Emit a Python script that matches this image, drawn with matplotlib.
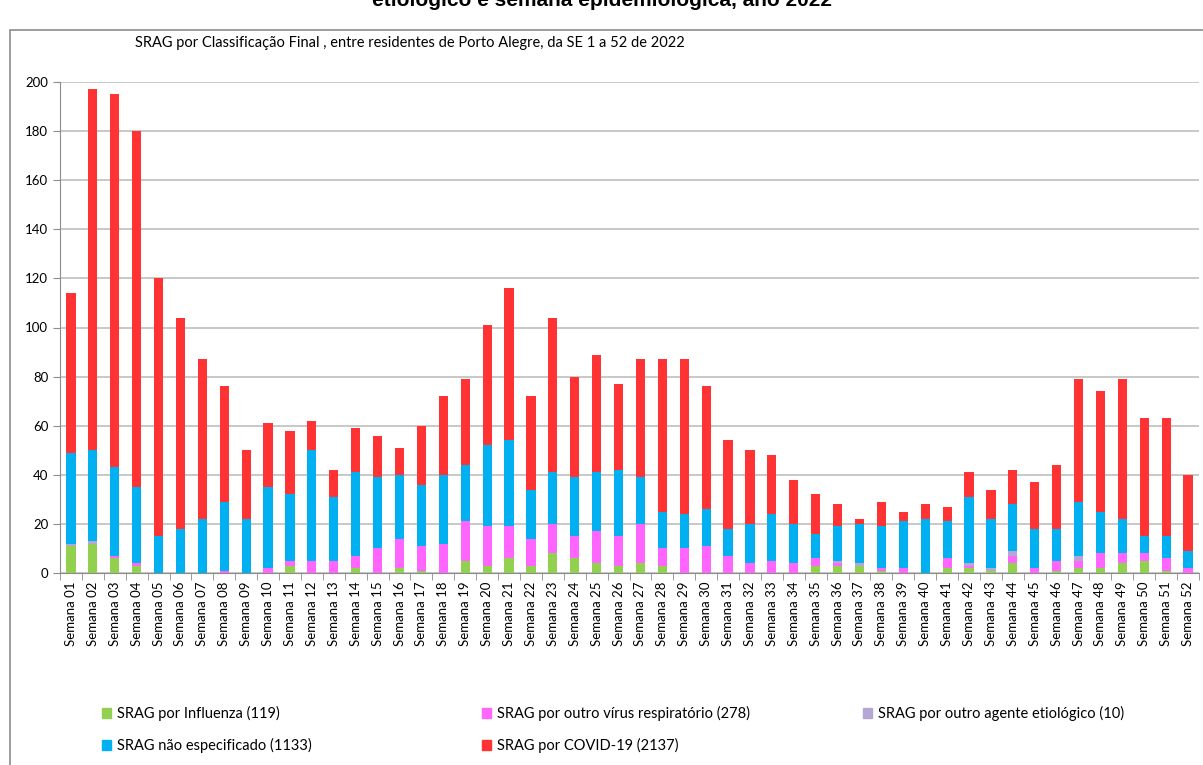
import numpy as np
import matplotlib.pyplot as plt
from matplotlib.patches import Rectangle

weeks = ["Semana %02d" % i for i in range(1, 53)]

influenza = [11, 12, 6, 3, 0, 0, 0, 0, 0, 0, 3, 0,
             0, 2, 0, 2, 1, 0, 5, 3, 6, 3, 8, 6, 4,
             3, 4, 3, 0, 0, 0, 0, 0, 0, 3, 3, 3, 1,
             0, 0, 2, 2, 1, 4, 0, 1, 2, 2, 4, 5, 1, 0]
outro_virus = [0, 0, 1, 1, 0, 0, 0, 1, 0, 2, 2, 5,
               5, 5, 10, 12, 10, 12, 16, 16, 13, 11, 12, 9, 13,
               12, 16, 7, 10, 11, 7, 4, 5, 4, 3, 1, 0, 1,
               2, 0, 4, 1, 0, 3, 2, 4, 3, 6, 4, 3, 5, 2]
outro_agente = [1, 1, 0, 0, 0, 0, 0, 0, 0, 0, 0, 0,
                0, 0, 0, 0, 0, 0, 0, 0, 0, 0, 0, 0, 0,
                0, 0, 0, 0, 0, 0, 0, 0, 0, 0, 1, 1, 0,
                0, 0, 0, 1, 1, 2, 0, 0, 2, 0, 0, 0, 0, 0]
nao_especificado = [37, 37, 36, 31, 15, 18, 22, 28, 22, 33, 27, 45,
                    26, 34, 29, 26, 25, 28, 23, 33, 35, 20, 21, 24, 24,
                    27, 19, 15, 14, 15, 11, 16, 19, 16, 10, 14, 16, 17,
                    19, 22, 15, 27, 20, 19, 16, 13, 22, 17, 14, 7, 9, 7]
covid = [65, 147, 152, 145, 105, 86, 65, 47, 28, 26, 26, 12,
         11, 18, 17, 11, 24, 32, 35, 49, 62, 38, 63, 41, 48,
         35, 48, 62, 63, 50, 36, 30, 24, 18, 16, 9, 2, 10,
         4, 6, 6, 10, 12, 14, 19, 26, 50, 49, 57, 48, 48, 31]

series = [
    ("SRAG por Influenza (119)", influenza, "#92d050"),
    ("SRAG por outro vírus respiratório (278)", outro_virus, "#ff66ff"),
    ("SRAG por outro agente etiológico (10)", outro_agente, "#b4a7d6"),
    ("SRAG não especificado (1133)", nao_especificado, "#00b0f0"),
    ("SRAG por COVID-19 (2137)", covid, "#ff3333"),
]

fig = plt.figure(figsize=(12.03, 7.65), dpi=100)
plt.rcParams['font.family'] = ['Lato', 'DejaVu Sans']

# outer frame
fig.patches.append(Rectangle((10 / 1203, -0.01), 1.2, 1 - 30 / 765 + 0.01,
                             transform=fig.transFigure, fill=False,
                             edgecolor='#8c8c8c', linewidth=1.2))

# title is cut at the top edge, as in the source image
fig.text(0.5, 1.0, "etiológico e semana epidemiológica, ano 2022",
         ha='center', va='center', fontsize=15, fontweight='bold',
         family='Liberation Sans')
fig.text(135 / 1203, 1 - 43 / 765, "SRAG por Classificação Final , entre residentes de Porto Alegre, da SE 1 a 52 de 2022",
         ha='left', va='center', fontsize=10.5)

ax = fig.add_axes([60 / 1203, 1 - 573 / 765, 1139 / 1203, (573 - 82) / 765])
x = np.arange(len(weeks))
bottom = np.zeros(len(weeks))
for label, vals, color in series:
    vals = np.array(vals)
    ax.bar(x, vals, 0.42, bottom=bottom, color=color, label=label, zorder=3)
    bottom += vals

ax.set_xlim(-0.5, len(weeks) - 0.5)
ax.set_ylim(0, 200)
ax.set_yticks(range(0, 201, 20))
ax.yaxis.grid(True, color='#bfbfbf', linewidth=1.2, zorder=0)
ax.set_xticks(x)
ax.set_xticklabels(weeks, rotation=90, fontsize=9.5)
ax.set_xticks(np.arange(-0.5, len(weeks), 1), minor=True)
ax.tick_params(axis='x', which='major', length=0, pad=6)
ax.tick_params(axis='x', which='minor', length=5, color='#8c8c8c')
ax.tick_params(axis='y', length=5, color='#8c8c8c', labelsize=9.5)
for s in ['top', 'right']:
    ax.spines[s].set_visible(False)
ax.spines['left'].set_color('#8c8c8c')
ax.spines['bottom'].set_color('#8c8c8c')

# legend
leg_pos = [(107, 713), (487, 713), (868, 713), (107, 745), (487, 745)]
for (label, vals, color), (px, py) in zip(series, leg_pos):
    fig.patches.append(Rectangle((px / 1203 - 0.004, 1 - py / 765 - 0.007), 0.0075, 0.014,
                                 transform=fig.transFigure, color=color))
    fig.text(px / 1203 + 0.008, 1 - py / 765, label, ha='left', va='center', fontsize=10.5)

fig.savefig("out.png", dpi=100)
